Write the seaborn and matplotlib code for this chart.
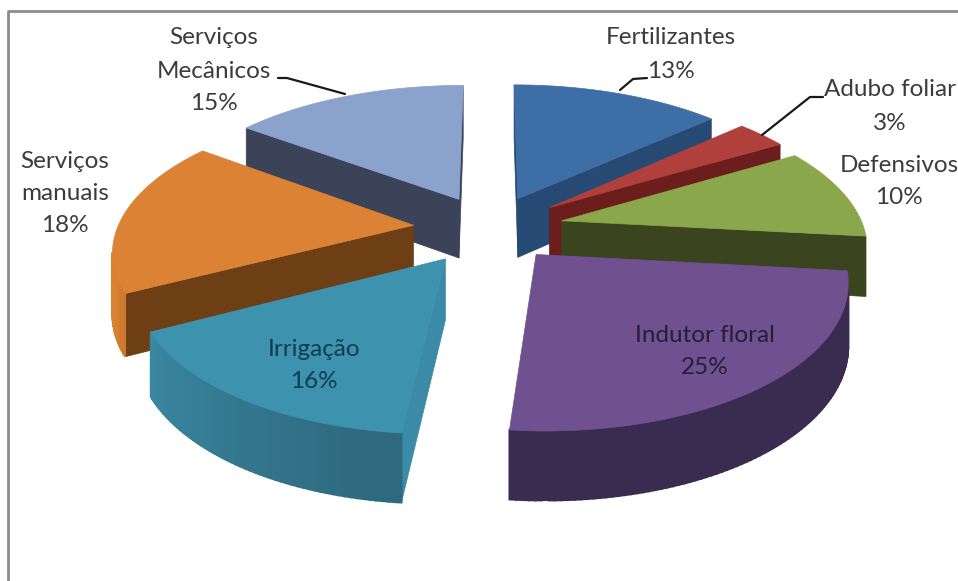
import numpy as np
import matplotlib
matplotlib.use("Agg")
import matplotlib.pyplot as plt
import seaborn as sns

# ---------------------------------------------------------------------------
# DATA
# ---------------------------------------------------------------------------
categories = ["Fertilizantes", "Adubo foliar", "Defensivos", "Indutor floral",
              "Irrigação", "Serviços manuais", "Serviços Mecânicos"]
values = [13.3, 3.2, 10.2, 24.8, 15.8, 17.7, 14.9]

# ---------------------------------------------------------------------------
# STYLE
# ---------------------------------------------------------------------------
top_colors = ["#3e6ea6", "#b0403c", "#8aa84b", "#6f5190", "#3d93ae", "#db8234", "#8ba2cc"]
cut_colors = ["#264a73", "#6c1e1c", "#3a4520", "#3d2e55", "#3a8aa8", "#6e3f14", "#3a4358"]
rim_dark = ["#264a73", "#6c1e1c", "#3a4520", "#3a2c50", "#2e6a7f", "#6e3f14", "#3a4358"]
rim_light = ["#264a73", "#6c1e1c", "#3a4520", "#44335c", "#3c8ca8", "#d98232", "#3a4358"]
explode = [0.235, 0.25, 0.245, 0.235, 0.255, 0.255, 0.235]
radius = [1, 1, 1, 0.985, 0.97, 0.98, 1]
draw_order = [0, 6, 1, 2, 5, 3, 4]

CX, CY = 490, 228
A, B, K = 302, 141, 0.162
DEPTH = 60
TEXT = "#3c3c3c"

sns.set_theme(style="white")
plt.rcParams["font.family"] = ["Lato", "DejaVu Sans"]


def project(x, y):
    w = 1 + K * y
    return CX + A * x / w, CY - B * y / w, DEPTH / w ** 0.7


def slice_geometry(t1, t2, e, r):
    mid = (t1 + t2) / 2
    ex, ey = e * np.sin(mid), e * np.cos(mid)
    th = np.linspace(t1, t2, max(int(np.degrees(t2 - t1)), 3))
    sx, sy, d = project(ex + r * np.sin(th), ey + r * np.cos(th))
    ax0, ay0, d0 = project(ex, ey)
    mx, my, _ = project(ex + 0.6 * np.sin(mid), ey + 0.6 * np.cos(mid))
    return th, sx, sy, d, (ax0, ay0, d0), (mx, my)


def draw_cut(ax, apex, px, py, pd, inner, color):
    # radial face only shows when going down leaves the slice
    ex, ey = px - apex[0], py - apex[1]
    side_in = ex * (inner[1] - apex[1]) - ey * (inner[0] - apex[0])
    side_down = ex
    if side_in * side_down < 0:
        ax.fill([apex[0], px, px, apex[0]],
                [apex[1], py, py + pd, apex[1] + apex[2]],
                color=color, lw=0.5)


fig, ax = plt.subplots(figsize=(9.58, 5.81), dpi=100)
fig.subplots_adjust(0, 0, 1, 1)
ax.set_xlim(0, 958)
ax.set_ylim(581, 0)
ax.axis("off")

# outer chart frame, only left and top are in the picture
ax.plot([8.5, 8.5, 958], [581, 10.5, 10.5], color="#8c8c8c", lw=2, solid_capstyle="butt")

edges = np.radians(np.concatenate([[0], np.cumsum(values)]) / np.sum(values) * 360)

for i in draw_order:
    th, sx, sy, d, apex, inner = slice_geometry(edges[i], edges[i + 1], explode[i], radius[i])

    draw_cut(ax, apex, sx[0], sy[0], d[0], inner, cut_colors[i])
    draw_cut(ax, apex, sx[-1], sy[-1], d[-1], inner, cut_colors[i])

    # rim, gets lighter as it turns towards the left
    shades = sns.blend_palette([rim_dark[i], rim_light[i]], 32)
    for j in range(len(th) - 1):
        if sx[j + 1] >= sx[j]:
            continue
        t = np.clip((np.degrees(th[j]) - 190) / 60, 0, 1)
        ax.fill([sx[j], sx[j + 1], sx[j + 1], sx[j]],
                [sy[j], sy[j + 1], sy[j + 1] + d[j + 1], sy[j] + d[j]],
                color=shades[int(t * 31)], lw=1.4)

    ax.fill(np.r_[apex[0], sx], np.r_[apex[1], sy], color=top_colors[i], lw=0.5)

# leader lines
ax.plot([620, 633, 647], [90, 79, 78], color="#1a1a1a", lw=1.6)
ax.plot([762, 810, 823], [135, 97, 97], color="#1a1a1a", lw=1.6)
ax.plot([345, 287, 278], [94, 78, 78], color="#1a1a1a", lw=1.6)

# labels
pct = [f"{round(v)}%" for v in values]
label_lines = [
    (671, [38, 71], ["Fertilizantes", pct[0]], TEXT),
    (890, [90, 123], ["Adubo foliar", pct[1]], TEXT),
    (899, [165, 198], ["Defensivos", pct[2]], TEXT),
    (705, [336, 368], ["Indutor floral", pct[3]], "#261c3c"),
    (314, [349, 381], ["Irrigação", pct[4]], "#0f3a55"),
    (65, [161, 193, 226], ["Serviços", "manuais", pct[5]], TEXT),
    (214, [38, 71, 104], ["Serviços", "Mecânicos", pct[6]], TEXT),
]
for x, ys, lines, color in label_lines:
    for y, line in zip(ys, lines):
        ax.text(x, y, line, ha="center", va="center", fontsize=17.5, color=color)

fig.savefig("out.png", dpi=100)
